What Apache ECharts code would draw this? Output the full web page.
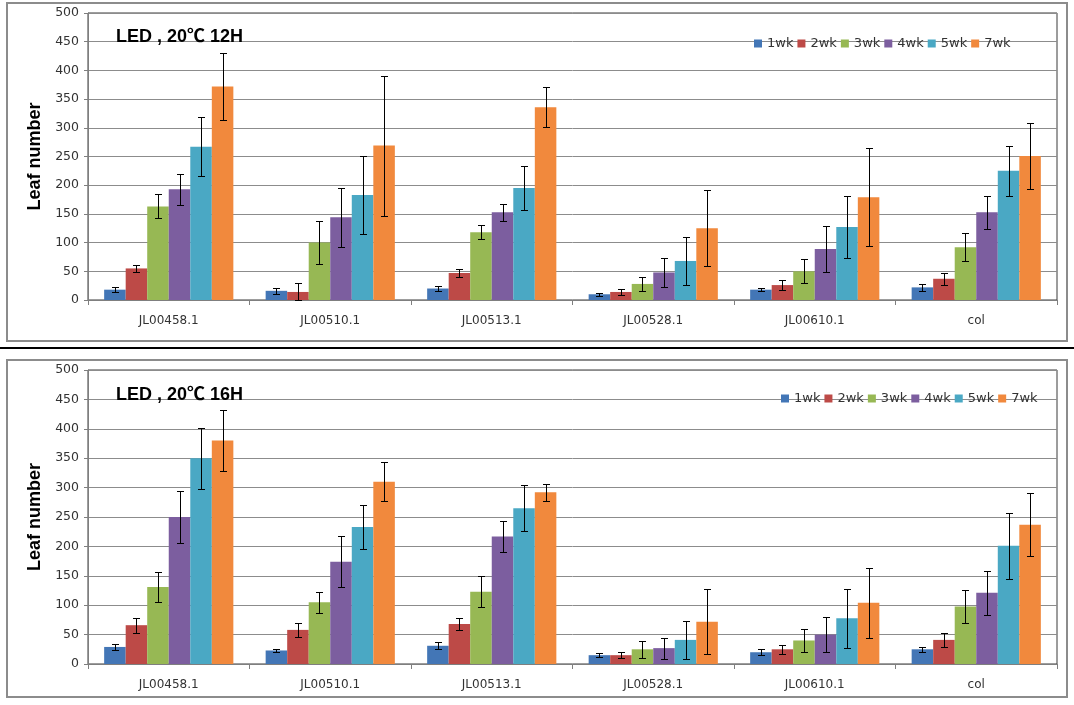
<!DOCTYPE html>
<html><head><meta charset="utf-8">
<script src="https://cdn.jsdelivr.net/npm/echarts@6/dist/echarts.min.js"></script>
<style>html,body{margin:0;padding:0;background:#fff}#chart{width:1074px;height:705px}</style>
</head><body><div id="chart"></div>
<script>
const categories = ['JL00458.1', 'JL00510.1', 'JL00513.1', 'JL00528.1', 'JL00610.1', 'col'];
const weeks = ['1wk', '2wk', '3wk', '4wk', '5wk', '7wk'];
const panelTitles = ['LED , 20\u2103 12H', 'LED , 20\u2103 16H'];
const yTicks = [0, 50, 100, 150, 200, 250, 300, 350, 400, 450, 500];

// rows = weeks (1,2,3,4,5,7wk), columns = categories
const mean12H = [
  [18, 16, 20, 10, 18, 22],
  [55, 14, 47, 14, 26, 37],
  [163, 100, 118, 28, 50, 92],
  [193, 144, 153, 48, 89, 153],
  [267, 183, 195, 68, 127, 225],
  [372, 269, 336, 125, 179, 251]
];
const err12H = [
  [4, 5, 4, 3, 3, 6],
  [6, 15, 7, 5, 8, 10],
  [21, 37, 12, 12, 21, 24],
  [27, 51, 15, 25, 40, 29],
  [51, 68, 38, 41, 54, 43],
  [58, 122, 35, 66, 85, 58]
];
const mean16H = [
  [29, 23, 31, 15, 20, 25],
  [66, 58, 68, 15, 25, 41],
  [131, 105, 123, 25, 40, 98],
  [250, 174, 217, 27, 50, 121],
  [350, 233, 265, 41, 78, 201],
  [380, 310, 292, 72, 104, 237]
];
const err16H = [
  [5, 3, 6, 3, 5, 4],
  [13, 12, 11, 5, 8, 12],
  [26, 18, 26, 14, 19, 28],
  [45, 43, 27, 18, 30, 37],
  [52, 37, 39, 32, 50, 56],
  [52, 33, 14, 55, 60, 53]
];

const colors = ['#4376B6', '#BD4A47', '#97B854', '#7C5E9F', '#4AA8C4', '#F1893D'];
const FONT = 'DejaVu Sans';
const BOLD = 'Liberation Sans, Arial, Noto Sans CJK KR';

const panels = [
  { mean: mean12H, err: err12H, grid: { left: 88, top: 13, width: 969, height: 287 }, titleTop: 28, legendLeft: 754, legendTop: 37 },
  { mean: mean16H, err: err16H, grid: { left: 88, top: 370, width: 969, height: 294 }, titleTop: 386, legendLeft: 781, legendTop: 392 }
];

function errRender(params, api) {
  const cat = api.value(0), w = api.value(1), m = api.value(2), e = api.value(3);
  const band = api.size([1, 0])[0];
  const bw = band * 0.8 / weeks.length;
  let x = api.coord([cat, m])[0] + (w - (weeks.length - 1) / 2) * bw;
  x = Math.round(x) + 0.5;
  const yHi = Math.round(api.coord([cat, m + e])[1]) + 0.5;
  const yLo = Math.round(api.coord([cat, Math.max(0, m - e)])[1]) + 0.5;
  const cap = 3.5;
  const style = { stroke: '#000', lineWidth: 1 };
  return { type: 'group', children: [
    { type: 'line', shape: { x1: x, y1: yHi, x2: x, y2: yLo }, style },
    { type: 'line', shape: { x1: x - cap, y1: yHi, x2: x + cap, y2: yHi }, style },
    { type: 'line', shape: { x1: x - cap, y1: yLo, x2: x + cap, y2: yLo }, style }
  ]};
}

const grids = [], xAxes = [], yAxes = [], series = [], legends = [], titles = [];
panels.forEach((p, pi) => {
  grids.push(Object.assign({ show: true, borderColor: '#3a3a3a', borderWidth: 1, backgroundColor: 'transparent' }, p.grid));
  xAxes.push({
    type: 'category', gridIndex: pi, data: categories,
    axisLine: { lineStyle: { color: '#7f7f7f', width: 1 } },
    axisTick: { show: true, length: 5, lineStyle: { color: '#7f7f7f' } },
    axisLabel: { fontFamily: FONT, fontSize: 12, color: '#333', margin: 15 },
    splitLine: { show: false }
  });
  yAxes.push({
    type: 'value', gridIndex: pi, min: yTicks[0], max: yTicks[yTicks.length - 1], interval: yTicks[1] - yTicks[0],
    name: 'Leaf number', nameLocation: 'middle', nameGap: 42,
    nameTextStyle: { fontFamily: BOLD, fontSize: 18, fontWeight: 'bold', color: '#000' },
    axisLine: { show: true, lineStyle: { color: '#7f7f7f', width: 1 } },
    axisTick: { show: true, length: 4, lineStyle: { color: '#7f7f7f' } },
    axisLabel: { fontFamily: FONT, fontSize: 12.5, color: '#333', margin: 9 },
    splitLine: { show: true, lineStyle: { color: '#8c8c8c', width: 1 } }
  });
  weeks.forEach((wk, wi) => {
    series.push({
      type: 'bar', name: wk, xAxisIndex: pi, yAxisIndex: pi,
      data: p.mean[wi], barGap: '0%', barCategoryGap: '20%',
      itemStyle: { color: colors[wi] }, emphasis: { disabled: true }
    });
  });
  const errData = [];
  weeks.forEach((wk, wi) => {
    categories.forEach((c, ci) => errData.push([ci, wi, p.mean[wi][ci], p.err[wi][ci]]));
  });
  series.push({
    type: 'custom', name: 'err' + pi, xAxisIndex: pi, yAxisIndex: pi,
    renderItem: errRender, data: errData, encode: { x: 0, y: 2 }, z: 5, silent: true
  });
  legends.push({
    data: weeks, left: p.legendLeft, top: p.legendTop, padding: 0,
    icon: 'rect', itemWidth: 8, itemHeight: 8, itemGap: 4,
    textStyle: { fontFamily: FONT, fontSize: 13, color: '#333' }
  });
  titles.push({
    text: panelTitles[pi], left: 116, top: p.titleTop, padding: 0,
    textStyle: { fontFamily: BOLD, fontSize: 18, fontWeight: 'bold', color: '#000' }
  });
});

const chart = echarts.init(document.getElementById('chart'), null, { renderer: 'canvas' });
chart.setOption({
  animation: false,
  color: colors,
  title: titles,
  legend: legends,
  grid: grids,
  xAxis: xAxes,
  yAxis: yAxes,
  series: series,
  graphic: [
    { type: 'rect', shape: { x: 7, y: 3, width: 1060, height: 338 }, style: { fill: 'none', stroke: '#8c8c8c', lineWidth: 2 }, z: -1 },
    { type: 'rect', shape: { x: 7, y: 360, width: 1060, height: 337 }, style: { fill: 'none', stroke: '#8c8c8c', lineWidth: 2 }, z: -1 },
    { type: 'line', shape: { x1: 0, y1: 348, x2: 1074, y2: 348 }, style: { stroke: '#000', lineWidth: 2 } }
  ]
});
</script>
</body></html>
